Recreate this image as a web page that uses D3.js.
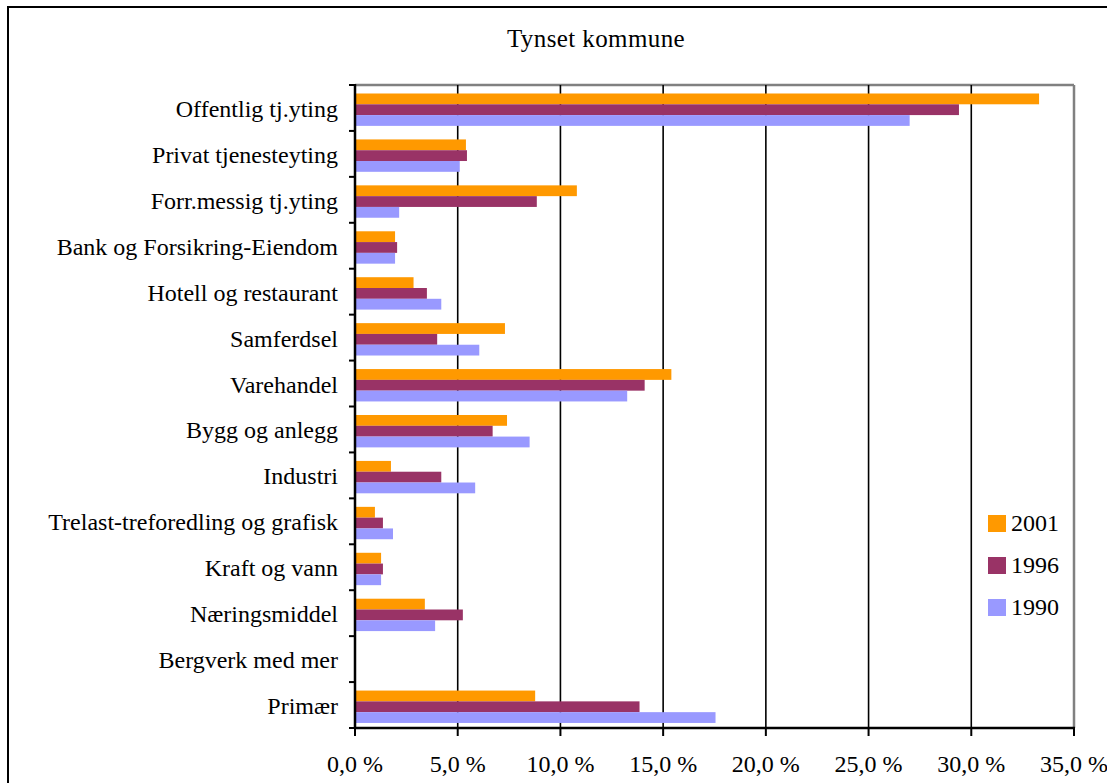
<!DOCTYPE html>
<html>
<head>
<meta charset="utf-8">
<script src="https://cdnjs.cloudflare.com/ajax/libs/d3/7.8.5/d3.min.js"></script>
<style>
  html, body { margin: 0; padding: 0; background: #fff; }
  svg { display: block; }
</style>
</head>
<body>
<svg id="chart" width="1107" height="783"></svg>
<script>
// ---- data ----
const title = "Tynset kommune";
const categories = [
  "Offentlig tj.yting",
  "Privat tjenesteyting",
  "Forr.messig tj.yting",
  "Bank og Forsikring-Eiendom",
  "Hotell og restaurant",
  "Samferdsel",
  "Varehandel",
  "Bygg og anlegg",
  "Industri",
  "Trelast-treforedling og grafisk",
  "Kraft og vann",
  "Næringsmiddel",
  "Bergverk med mer",
  "Primær"
];
const seriesNames = ["2001", "1996", "1990"];
const values2001 = [33.3, 5.4, 10.8, 1.95, 2.85, 7.3, 15.4, 7.4, 1.75, 0.97, 1.27, 3.4, 0, 8.77];
const values1996 = [29.4, 5.45, 8.85, 2.05, 3.5, 4.0, 14.1, 6.7, 4.2, 1.36, 1.36, 5.25, 0, 13.85];
const values1990 = [27.0, 5.1, 2.15, 1.95, 4.2, 6.05, 13.25, 8.5, 5.85, 1.85, 1.27, 3.9, 0, 17.55];
const colors = ["#FF9900", "#993366", "#9999FF"];
const xTicks = [0, 5, 10, 15, 20, 25, 30, 35];
const tickLabels = ["0,0 %", "5,0 %", "10,0 %", "15,0 %", "20,0 %", "25,0 %", "30,0 %", "35,0 %"];

const seriesValues = [values2001, values1996, values1990];
const FONT = "'Liberation Serif', 'Times New Roman', Tinos, serif";

// ---- layout ----
const svg = d3.select("#chart");
const plot = { left: 355, right: 1074, top: 85, bottom: 728 };

// outer chart border
svg.append("rect")
  .attr("x", 8).attr("y", 7)
  .attr("width", 1120).attr("height", 800)
  .attr("fill", "#fff").attr("stroke", "#000").attr("stroke-width", 2);

const x = d3.scaleLinear().domain([0, 35]).range([plot.left, plot.right]);
const y = d3.scaleBand().domain(categories).range([plot.top, plot.bottom]).padding(0);
const ySub = d3.scaleBand().domain(seriesNames)
  .range([y.bandwidth() * 0.185, y.bandwidth() * 0.89]).padding(0);

// plot border (top and right in gray)
svg.append("line").attr("x1", plot.left).attr("x2", plot.right)
  .attr("y1", plot.top).attr("y2", plot.top)
  .attr("stroke", "#808080").attr("stroke-width", 2.5);
svg.append("line").attr("x1", plot.right).attr("x2", plot.right)
  .attr("y1", plot.top).attr("y2", plot.bottom)
  .attr("stroke", "#808080").attr("stroke-width", 2.5);

// gridlines
svg.append("g").selectAll("line")
  .data(xTicks.filter(d => d > 0 && d < 35))
  .join("line")
  .attr("x1", d => x(d)).attr("x2", d => x(d))
  .attr("y1", plot.top).attr("y2", plot.bottom)
  .attr("stroke", "#000").attr("stroke-width", 1.6);

// bars
const groups = svg.append("g").selectAll("g")
  .data(categories)
  .join("g")
  .attr("transform", d => `translate(0,${y(d)})`);

groups.selectAll("rect")
  .data((d, i) => seriesNames.map((s, k) => ({ s, v: seriesValues[k][i], c: colors[k] })))
  .join("rect")
  .attr("x", x(0))
  .attr("y", d => ySub(d.s))
  .attr("width", d => x(d.v) - x(0))
  .attr("height", ySub.bandwidth())
  .attr("fill", d => d.c);

// y axis
const yAxisG = svg.append("g");
yAxisG.append("line").attr("x1", plot.left).attr("x2", plot.left)
  .attr("y1", plot.top - 1).attr("y2", plot.bottom + 1)
  .attr("stroke", "#000").attr("stroke-width", 2.5);
const yBounds = categories.map(c => y(c)).concat([plot.bottom]);
yAxisG.selectAll("line.tick").data(yBounds).join("line")
  .attr("class", "tick")
  .attr("x1", plot.left - 6).attr("x2", plot.left)
  .attr("y1", d => d).attr("y2", d => d)
  .attr("stroke", "#000").attr("stroke-width", 2);
yAxisG.selectAll("text").data(categories).join("text")
  .attr("x", 338)
  .attr("y", d => y(d) + y.bandwidth() / 2 + 9)
  .attr("text-anchor", "end")
  .style("font-family", FONT)
  .style("font-size", "24px")
  .text(d => d);

// x axis
const xAxisG = svg.append("g");
xAxisG.append("line").attr("x1", plot.left).attr("x2", plot.right + 1)
  .attr("y1", plot.bottom).attr("y2", plot.bottom)
  .attr("stroke", "#000").attr("stroke-width", 2.5);
xAxisG.selectAll("line.tick").data(xTicks).join("line")
  .attr("class", "tick")
  .attr("x1", d => x(d)).attr("x2", d => x(d))
  .attr("y1", plot.bottom).attr("y2", plot.bottom + 8)
  .attr("stroke", "#000").attr("stroke-width", 2);
xAxisG.selectAll("text").data(xTicks).join("text")
  .attr("x", d => x(d))
  .attr("y", 772)
  .attr("text-anchor", "middle")
  .style("font-family", FONT)
  .style("font-size", "24px")
  .text((d, i) => tickLabels[i]);

// title
svg.append("text")
  .attr("x", 596).attr("y", 47)
  .attr("text-anchor", "middle")
  .style("font-family", FONT)
  .style("font-size", "25px")
  .style("letter-spacing", "0.4px")
  .text(title);

// legend
const legend = svg.append("g").selectAll("g")
  .data(seriesNames)
  .join("g")
  .attr("transform", (d, i) => `translate(988,${515 + i * 42})`);
legend.append("rect")
  .attr("width", 18).attr("height", 17)
  .attr("fill", (d, i) => colors[i]);
legend.append("text")
  .attr("x", 23).attr("y", 16)
  .style("font-family", FONT)
  .style("font-size", "24px")
  .text(d => d);
</script>
</body>
</html>
